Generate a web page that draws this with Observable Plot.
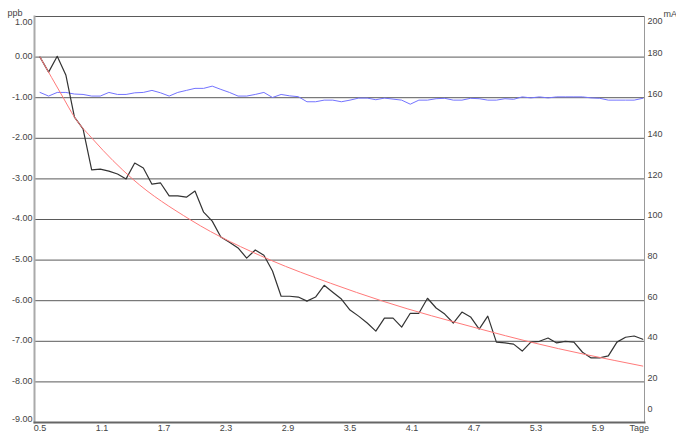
<!DOCTYPE html>
<html>
<head>
<meta charset="utf-8">
<script src="https://cdn.jsdelivr.net/npm/d3@7"></script>
<script src="https://cdn.jsdelivr.net/npm/@observablehq/plot@0.6"></script>
<style>
  html, body { margin: 0; padding: 0; background: #fff; }
  svg { display: block; }
</style>
</head>
<body>
<div id="chart"></div>
<script>
// time grid: one sample every 2 hours starting at day 0.5
const tStartDays = 0.5;
const tStepHours = 2;

// black measured series (ppb)
const ppbValues = [
  0.00, -0.37, 0.02, -0.44, -1.48, -1.77, -2.78, -2.76, -2.81, -2.88,
  -3.00, -2.61, -2.73, -3.13, -3.10, -3.42, -3.42, -3.45, -3.30, -3.82,
  -4.04, -4.43, -4.56, -4.70, -4.95, -4.75, -4.88, -5.27, -5.89, -5.89,
  -5.91, -6.01, -5.91, -5.62, -5.79, -5.96, -6.23, -6.38, -6.55, -6.75,
  -6.43, -6.43, -6.65, -6.31, -6.31, -5.94, -6.18, -6.33, -6.55, -6.28,
  -6.40, -6.70, -6.38, -7.02, -7.04, -7.07, -7.24, -7.02, -7.00, -6.92,
  -7.04, -7.00, -7.02, -7.27, -7.41, -7.41, -7.36, -7.02, -6.90, -6.87,
  -6.95
];

// blue current series (mA, right axis)
const mAValues = [
  162.6, 160.8, 162.6, 162.6, 161.8, 161.6, 160.8, 160.8, 162.6, 161.6,
  161.6, 162.4, 162.6, 163.6, 162.4, 160.8, 162.6, 163.6, 164.6, 164.6,
  165.7, 164.1, 162.6, 160.8, 160.8, 161.6, 162.6, 160.1, 161.6, 160.9,
  160.5, 158.0, 158.0, 158.8, 158.8, 158.0, 158.8, 159.8, 159.8, 159.0,
  159.8, 159.3, 158.8, 156.8, 158.8, 158.8, 159.5, 159.7, 158.8, 158.8,
  159.7, 159.5, 158.8, 158.8, 159.5, 159.2, 160.4, 159.9, 160.4, 159.9,
  160.4, 160.4, 160.4, 160.4, 159.9, 159.7, 158.8, 158.8, 158.8, 158.8,
  159.7
];

// red trend curve
const trendDays = [0.5, 0.727, 0.834, 1.018, 1.395, 1.957, 2.731, 3.312, 3.815, 4.764, 5.248, 6.333];
const trendPpb  = [0.00, -1.01, -1.48, -2.04, -3.00, -4.01, -5.00, -5.57, -6.01, -6.70, -7.02, -7.61];

// axes
const ppbTicks = [1, 0, -1, -2, -3, -4, -5, -6, -7, -8, -9];
const mATicks = [200, 180, 160, 140, 120, 100, 80, 60, 40, 20, 0];
const xTickValues = [0.5, 1.1, 1.7, 2.3, 2.9, 3.5, 4.1, 4.7, 5.3, 5.9, 6.3];
const xTickLabels = ["0.5", "1.1", "1.7", "2.3", "2.9", "3.5", "4.1", "4.7", "5.3", "5.9", "Tage"];
const xDomain = [0.4468, 6.350];
const yDomain = [-9, 1];

// mA <-> ppb mapping of the two axes (200 mA = 1.00 ppb, 0 mA = -9.00 ppb)
const mAToPpb = v => (v - 180) / 20;

const days = ppbValues.map((_, i) => tStartDays + i * tStepHours / 24);
const black = ppbValues.map((v, i) => ({t: days[i], v}));
const blue = mAValues.map((v, i) => ({t: days[i], v: mAToPpb(v)}));
const red = trendDays.map((t, i) => ({t, v: trendPpb[i]}));

const fmt = d => d.toFixed(2);
const textCol = "#444";
const fontSize = 9;

const midPpb = ppbTicks.filter(d => d !== 1 && d !== -9);
const midmA = mATicks.filter(d => d !== 200 && d !== 0);

const chart = Plot.plot({
  width: 676,
  height: 434,
  marginTop: 16,
  marginBottom: 12,
  marginLeft: 34,
  marginRight: 32,
  style: {fontFamily: "Arial, 'Liberation Sans', sans-serif", fontSize: fontSize + "px", color: textCol, background: "#fff"},
  x: {domain: xDomain, axis: null},
  y: {domain: yDomain, axis: null},
  marks: [
    Plot.ruleY(ppbTicks.filter(d => d !== -9), {stroke: "#5a5a5a", strokeWidth: 1}),
    Plot.frame({anchor: "left", stroke: "#aaa", strokeWidth: 2}),
    Plot.frame({anchor: "right", stroke: "#999", strokeWidth: 1}),
    Plot.frame({anchor: "bottom", stroke: "#666", strokeWidth: 2}),
    Plot.line(blue, {x: "t", y: "v", stroke: "#7373ff", strokeWidth: 1}),
    Plot.line(black, {x: "t", y: "v", stroke: "#333", strokeWidth: 1.2}),
    Plot.line(red, {x: "t", y: "v", stroke: "#ff7a7a", strokeWidth: 1, curve: "monotone-x"}),
    // left tick labels
    Plot.text(midPpb, {y: d => d, text: fmt, frameAnchor: "left", textAnchor: "end", dx: -2, dy: -1, fill: textCol}),
    Plot.text([1], {y: d => d, text: fmt, frameAnchor: "left", textAnchor: "end", dx: -2, dy: 6, fill: textCol}),
    Plot.text([-9], {y: d => d, text: fmt, frameAnchor: "left", textAnchor: "end", dx: -2, dy: -3, fill: textCol}),
    // right tick labels
    Plot.text(midmA, {y: d => mAToPpb(d), text: d => String(d), frameAnchor: "right", textAnchor: "start", dx: 3, dy: -4, fill: textCol}),
    Plot.text([200], {y: d => mAToPpb(d), text: d => String(d), frameAnchor: "right", textAnchor: "start", dx: 3, dy: 5, fill: textCol}),
    Plot.text([0], {y: d => mAToPpb(d), text: d => String(d), frameAnchor: "right", textAnchor: "start", dx: 3, dy: -13, fill: textCol}),
    // bottom tick labels
    Plot.text(xTickValues, {x: d => d, text: (d, i) => xTickLabels[i], frameAnchor: "bottom", textAnchor: "middle", dy: 8, fill: textCol}),
    // unit labels
    Plot.text(["ppb"], {frameAnchor: "top-left", textAnchor: "start", dx: -27, dy: -7, fill: textCol}),
    Plot.text(["mA"], {frameAnchor: "top-right", textAnchor: "start", dx: 19, dy: -6, fill: textCol})
  ]
});
document.getElementById("chart").appendChild(chart);
</script>
</body>
</html>
